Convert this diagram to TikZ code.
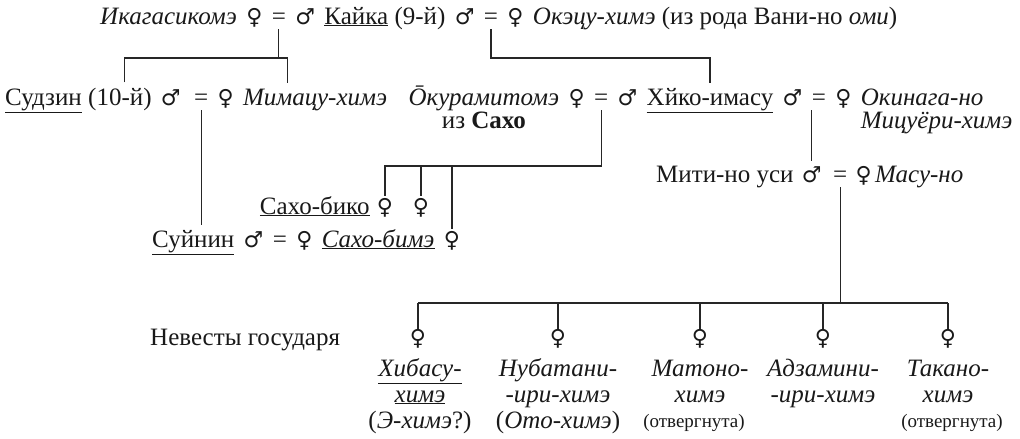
\documentclass[tikz,border=0pt]{standalone}
\usepackage{fontspec}
\setmainfont{Liberation Serif}
\newfontfamily\symf{DejaVu Sans}
\usetikzlibrary{calc}
\newcommand\fs{\fontsize{25}{29}\selectfont}
\newcommand\sm{\fontsize{19}{22}\selectfont}
\newcommand\Fem{{\symf\fontsize{22}{24}\selectfont ♀}}
\newcommand\Mal{{\symf\fontsize{22}{24}\selectfont ♂}}
\begin{document}
\begin{tikzpicture}[x=1pt,y=-1pt,
  tx/.style={inner sep=0pt, anchor=base west, font=\fs, text=black!90},
  cx/.style={inner sep=0pt, anchor=base, font=\fs, text=black!90},
  nx/.style={anchor=base west, at={($(#1.base east)+(9,0)$)}},
  nw/.style={anchor=base west, at={($(#1.base east)+(6,0)$)}},
  px/.style={anchor=base east, at={($(#1.base west)+(-9,0)$)}},
  ln/.style={line width=1.1pt, draw=black!85}]
\useasboundingbox (0,0) rectangle (1020,439);
\coordinate (yA) at (0,58);
\coordinate (yS) at (0,166);
\coordinate (yB) at (0,303);
% Row 1
\node[tx] (a1) at (100,24) {\textit{Икагасикомэ}};
\node[tx,nx=a1] (a1s) {\Fem};
\node[tx,nx=a1s] (eqA) {=};
\node[tx,nx=eqA] (a2s) {\Mal};
\node[tx,nx=a2s] (a2) {\underline{Кайка}};
\node[tx,nw=a2] (a2g) {(9-й)};
\node[tx,nx=a2g] (a3s) {\Mal};
\node[tx,nx=a3s] (eqB) {=};
\node[tx,nx=eqB] (a4s) {\Fem};
\node[tx,nx=a4s] (a4) {\textit{Окэцу-химэ} (из рода Вани-но \textit{оми})};
% Row 2 left
\node[tx] (b1n) at (5,105) {\underline{Судзин}};
\node[tx,nw=b1n] (b1g) {(10-й)};
\node[tx,nx=b1g] (b1s) {\Mal};
\node[tx,at={($(b1s.base east)+(13,0)$)}] (eqC) {=};
\node[tx,nx=eqC] (b2s) {\Fem};
\node[tx,nx=b2s] (b2n) {\textit{Мимацу-химэ}};
% Row 2 right (built around Hiko-imasu)
\node[cx] (c3) at (710,105) {\underline{Хйко-имасу}};
\node[tx,nx=c3] (c4s) {\Mal};
\node[tx,nx=c4s] (eqE) {=};
\node[tx,nx=eqE] (c5s) {\Fem};
\node[tx,nx=c5s] (c6) {\textit{Окинага-но}};
\node[tx] (c7) at ($(c6.base west)+(0,23)$) {\textit{Мицуёри-химэ}};
\node[tx,px=c3] (c2s) {\Mal};
\node[tx,px=c2s] (eqD) {=};
\node[tx,px=eqD] (c1s) {\Fem};
\node[tx,px=c1s] (c1) {\textit{Ōкурамитомэ}};
\node[cx] (c8) at ($(c1.base)+(0,23)$) {из \textbf{Сахо}};
% Row 4
\node[tx] (e1) at (152,247) {\underline{Суйнин}};
\node[tx,nx=e1] (e2) {\Mal};
\node[tx,nx=e2] (eqF) {=};
\node[tx,nx=eqF] (e3) {\Fem};
\node[tx,nx=e3] (e4) {\underline{\textit{Сахо-бимэ}}};
\node[tx,nx=e4] (e5) {\Fem};
% Row 3
\node[cx] (d2) at (385,214) {\Fem};
\node[cx] (d3) at (421,214) {\Fem};
\node[tx,anchor=base east,at={($(d2.base west)+(-7,0)$)}] (d1) {\underline{Сахо-бико}};
% Mitsi row
\coordinate (vE) at ([xshift=-7pt]eqE.south);
\node[cx] (f2) at (vE |- 0,182) {\Mal};
\node[tx,anchor=base east,at={($(f2.base west)+(-8,0)$)}] (f1) {Мити-но уси};
\node[tx,at={($(f2.base east)+(11,0)$)}] (eqG) {=};
\node[tx,at={($(eqG.base east)+(8,0)$)}] (f3) {\Fem};
\node[tx,at={($(f3.base east)+(3,0)$)}] (f4) {\textit{Масу-но}};
% Brides
\node[tx] (nv) at (150,345) {Невесты государя};
\node[cx] (g1) at (418,345) {\Fem};
\node[cx] (g2) at (558,345) {\Fem};
\node[cx] (g3) at (700,345) {\Fem};
\node[cx] (g4) at (823,345) {\Fem};
\node[cx] (g5) at (948,345) {\Fem};
\node[cx] (h1a) at (420,376) {\underline{\textit{Хибасу-}}};
\node[cx] (h1b) at (420,402) {\underline{\textit{химэ}}};
\node[cx] (h1c) at (420,428) {(\textit{Э-химэ}?)};
\node[cx] (h2a) at (558,376) {\textit{Нубатани-}};
\node[cx] (h2b) at (558,402) {\textit{-ири-химэ}};
\node[cx] (h2c) at (558,428) {(\textit{Ото-химэ})};
\node[cx] (h3a) at (700,376) {\textit{Матоно-}};
\node[cx] (h3b) at (700,402) {\textit{химэ}};
\node[cx] (h3c) at (694,427) {\sm(отвергнута)};
\node[cx] (h4a) at (823,376) {\textit{Адзамини-}};
\node[cx] (h4b) at (823,402) {\textit{-ири-химэ}};
\node[cx] (h5a) at (948,376) {\textit{Такано-}};
\node[cx] (h5b) at (948,402) {\textit{химэ}};
\node[cx] (h5c) at (952,427) {\sm(отвергнута)};
% connectors
\coordinate (tS) at ($(b1g.north west)!0.57!(b1g.north east)$);
\coordinate (tM) at ($(b2n.north west)!0.31!(b2n.north east)$);
\draw[ln] ([yshift=-5pt]eqA.south) -- (eqA.south |- yA);
\draw[ln] ($(tS)+(0,-5)$) -- (tS |- yA) -- (tM |- yA) -- ($(tM)+(0,-5)$);
\draw[ln] ([yshift=-5pt]eqB.south) -- (eqB.south |- yA) -- (c3.north |- yA) -- ($(c3.north)+(0,-5)$);
\draw[ln] ([yshift=-5pt]eqC.south) -- ($(eqC.south |- e1.north)+(0,-5)$);
\draw[ln] ([yshift=-5pt]eqD.south) -- (eqD.south |- yS) -- (d2.north |- yS) -- ($(d2.north)+(0,-2)$);
\draw[ln] (d3.north |- yS) -- ($(d3.north)+(0,-2)$);
\draw[ln] (e5.north |- yS) -- ($(e5.north)+(0,-2)$);
\draw[ln] ([yshift=-5pt]vE) -- ($(vE |- f2.north)+(0,-5)$);
\draw[ln] ([yshift=-5pt]eqG.south) -- (eqG.south |- yB);
\draw[ln] (g1.north |- yB) -- (g5.north |- yB);
\foreach \g in {g1,g2,g3,g4,g5} \draw[ln] (\g.north |- yB) -- (\g.north);
\end{tikzpicture}
\end{document}
